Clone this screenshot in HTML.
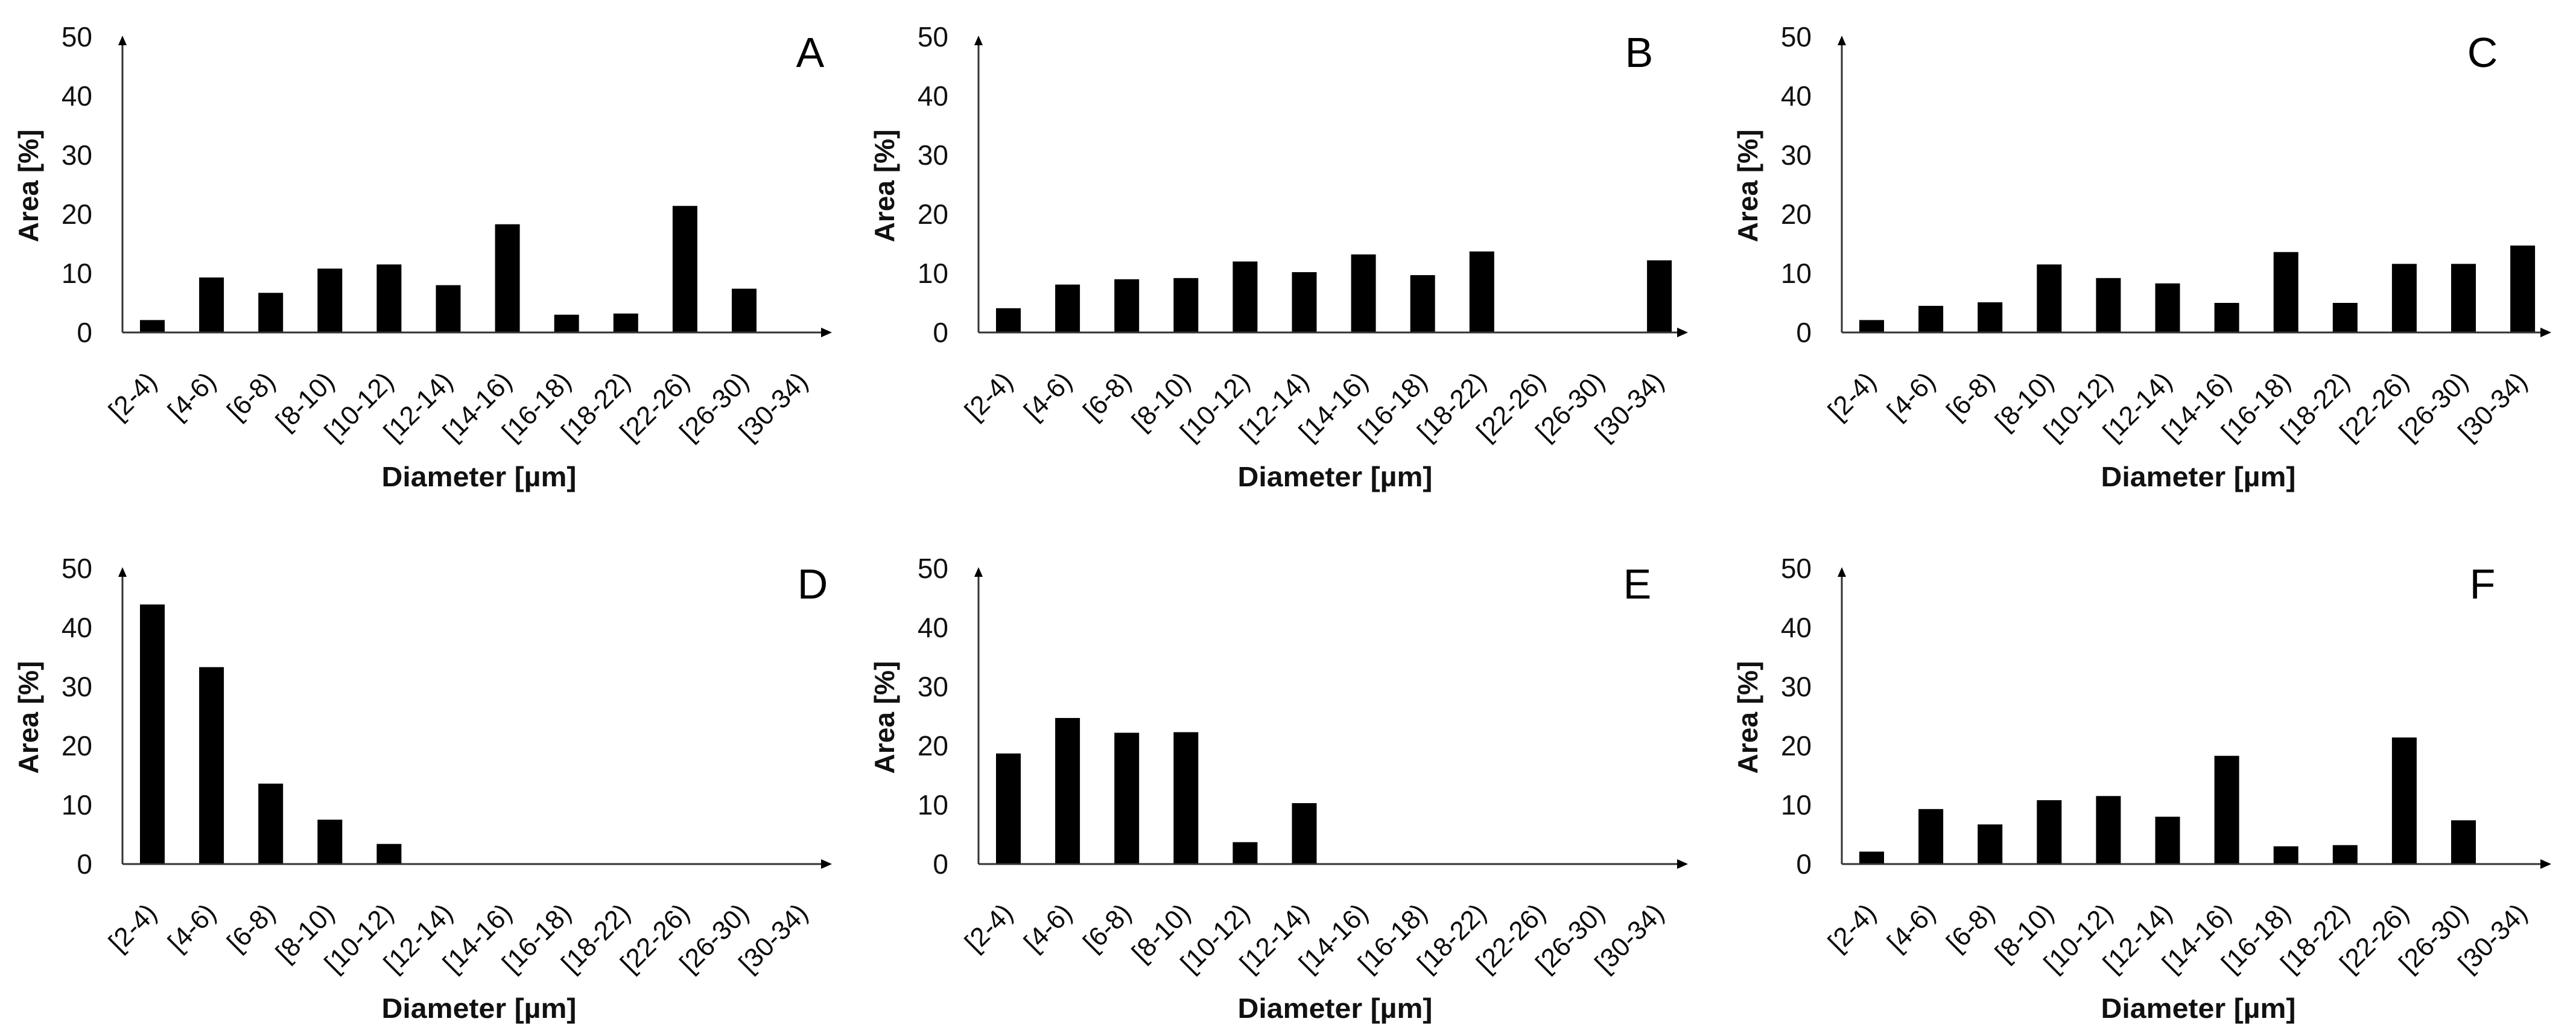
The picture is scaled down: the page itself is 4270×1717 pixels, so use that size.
<!DOCTYPE html>
<html><head><meta charset="utf-8"><style>
html,body{margin:0;padding:0;background:#fff;}
svg{display:block;font-family:"Liberation Sans",sans-serif;}
</style></head><body>
<svg id="fig" width="4270" height="1717" viewBox="0 0 4270 1717" xmlns="http://www.w3.org/2000/svg"></svg>
<script>
const categories = ["[2-4)","[4-6)","[6-8)","[8-10)","[10-12)","[12-14)","[14-16)","[16-18)","[18-22)","[22-26)","[26-30)","[30-34)"];
const yTicks = [0,10,20,30,40,50];
const valuesA = [2.1,9.3,6.7,10.8,11.5,8.0,18.3,3.0,3.2,21.4,7.4,0];
const valuesB = [4.1,8.1,9.0,9.2,12.0,10.2,13.2,9.7,13.7,0,0,12.2];
const valuesC = [2.1,4.5,5.1,11.5,9.2,8.3,5.0,13.6,5.0,11.6,11.6,14.7];
const valuesD = [43.9,33.3,13.6,7.5,3.4,0,0,0,0,0,0,0];
const valuesE = [18.7,24.7,22.2,22.3,3.7,10.3,0,0,0,0,0,0];
const valuesF = [2.1,9.3,6.7,10.8,11.5,8.0,18.3,3.0,3.2,21.4,7.4,0];
const panelLabels = ["A","B","C","D","E","F"];

const NS = "http://www.w3.org/2000/svg";
const svg = document.getElementById('fig');
function mk(tag, attrs, parent){ const e=document.createElementNS(NS,tag); for(const k in attrs) e.setAttribute(k,attrs[k]); (parent||svg).appendChild(e); return e; }

const panels = [
  {vals:valuesA, ax:203,  base:551, lx:1343},
  {vals:valuesB, ax:1622, base:551, lx:2717},
  {vals:valuesC, ax:3053, base:551, lx:4115},
  {vals:valuesD, ax:203,  base:1432, lx:1347},
  {vals:valuesE, ax:1622, base:1432, lx:2714},
  {vals:valuesF, ax:3053, base:1432, lx:4115}
];
const unit = 9.8;
const step = 98.1;
const barW = 41;

panels.forEach((p,pi)=>{
  const g = mk('g',{});
  
  
  const xScale = i => p.ax + 49.5 + i*step;
  const yScale = v => p.base - v*unit;
  p.vals.forEach((v,i)=>{
    if(v<=0) return;
    const r = mk('rect',{x:xScale(i)-barW/2, y:yScale(v), width:barW, height:p.base-yScale(v), fill:'#000'}, g);
    
    
  });
  const top = yScale(50);
  const ya = mk('line',{x1:p.ax,y1:p.base,x2:p.ax,y2:top+6,stroke:'#333','stroke-width':3}, g);
  
  
  mk('polygon',{points:`${p.ax-7},${top+14} ${p.ax+7},${top+14} ${p.ax},${top-2}`,fill:'#000'}, g);
  const xEnd = p.ax + 1174;
  const xa = mk('line',{x1:p.ax,y1:p.base,x2:xEnd-6,y2:p.base,stroke:'#333','stroke-width':3}, g);
  
  
  mk('polygon',{points:`${xEnd-16},${p.base-8} ${xEnd-16},${p.base+8} ${xEnd+2},${p.base}`,fill:'#000'}, g);
  yTicks.forEach(t=>{
    const tx = mk('text',{x:p.ax-50, y:yScale(t)+16, 'text-anchor':'end','font-size':46, fill:'#111'}, g);
    tx.textContent = t;
    
    
  });
  categories.forEach((c,i)=>{
    const ex = xScale(i)+10, ey = p.base+84;
    const tx = mk('text',{x:ex, y:ey, 'text-anchor':'end','font-size':44, fill:'#0a0a0a', transform:`rotate(-45 ${ex} ${ey})`}, g);
    tx.textContent = c;
    
    
  });
  const yx = p.ax-140, yy = p.base-243;
  const yt = mk('text',{x:yx, y:yy, 'text-anchor':'middle','font-size':46,'font-weight':'bold', fill:'#111', textLength:187, lengthAdjust:'spacingAndGlyphs', transform:`rotate(-90 ${yx} ${yy})`}, g);
  yt.textContent = 'Area [%]';
  
  
  const xt = mk('text',{x:p.ax+591, y:p.base+255, 'text-anchor':'middle','font-size':46,'font-weight':'bold', fill:'#111', textLength:323, lengthAdjust:'spacingAndGlyphs'}, g);
  xt.textContent = 'Diameter [µm]';
  
  
  const pl = mk('text',{x:p.lx, y:p.base-440, 'text-anchor':'middle','font-size':70, fill:'#000'}, g);
  pl.textContent = panelLabels[pi];
  
  
});
</script>
</body></html>
